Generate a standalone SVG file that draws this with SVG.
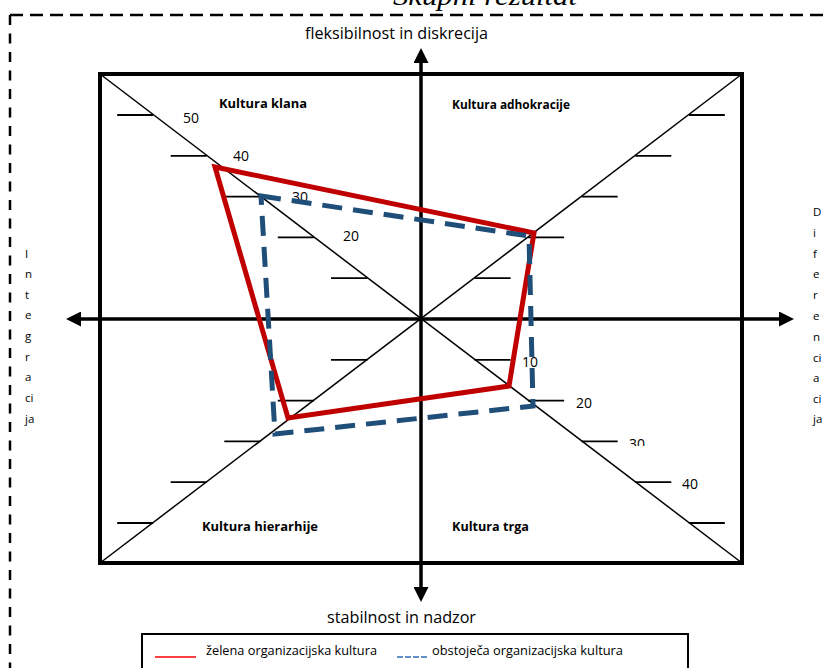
<svg xmlns="http://www.w3.org/2000/svg" width="826" height="668" viewBox="0 0 826 668">
<style>
.t{font-family:"Open Sans","Liberation Sans",sans-serif;fill:#000}
.num{font-size:14px}
.q{font-size:12.5px;font-weight:bold}
.ax{font-size:15.5px}
.v{font-size:11.5px}
.lg{font-size:12.5px}
.diag{stroke:#000;stroke-width:1.5;fill:none}
.tick{stroke:#000;stroke-width:1.8}
.axis{stroke:#000;stroke-width:3.5;fill:none}
</style>
<defs>
<marker id="ah" viewBox="0 -7.5 15 15" refX="1" refY="0" markerWidth="15" markerHeight="15" markerUnits="userSpaceOnUse" orient="auto-start-reverse">
<path d="M0,-7.5 L15,0 L0,7.5 z" fill="#000"/>
</marker>
<clipPath id="c1"><rect x="280" y="180" width="40" height="20.5"/></clipPath>
<clipPath id="c2"><rect x="620" y="425" width="40" height="21"/></clipPath>
</defs>
<rect width="826" height="668" fill="#fff"/>

<g id="title">
<text x="393" y="5" font-family="'Liberation Serif',serif" font-style="italic" font-size="28" textLength="184" lengthAdjust="spacingAndGlyphs">Skupni rezultat</text>
</g>

<g id="border">
<line x1="10" y1="15" x2="826" y2="15" stroke="#000" stroke-width="2.5" stroke-dasharray="13 7"/>
<line x1="10" y1="15" x2="10" y2="668" stroke="#000" stroke-width="2.5" stroke-dasharray="10 8.5"/>
</g>

<g id="frame">
<rect x="100" y="74" width="642" height="489" fill="none" stroke="#000" stroke-width="4"/>
<line class="diag" x1="100" y1="74" x2="742" y2="563"/>
<line class="diag" x1="742" y1="74" x2="100" y2="563"/>
</g>

<g id="ticks">
<line class="tick" x1="331" y1="278.2" x2="367.4" y2="278.2"/>
<line class="tick" x1="277.8" y1="237.4" x2="313.9" y2="237.4"/>
<line class="tick" x1="224.3" y1="196.6" x2="260.3" y2="196.6"/>
<line class="tick" x1="170.7" y1="155.8" x2="206.7" y2="155.8"/>
<line class="tick" x1="117.2" y1="115" x2="153.2" y2="115"/>
<line class="tick" x1="474.6" y1="278.2" x2="510.6" y2="278.2"/>
<line class="tick" x1="528.1" y1="237.4" x2="564.1" y2="237.4"/>
<line class="tick" x1="581.7" y1="196.6" x2="617.7" y2="196.6"/>
<line class="tick" x1="635.3" y1="155.8" x2="671.3" y2="155.8"/>
<line class="tick" x1="688.8" y1="115" x2="724.8" y2="115"/>
<line class="tick" x1="331" y1="359.8" x2="367.4" y2="359.8"/>
<line class="tick" x1="277.8" y1="400.6" x2="313.9" y2="400.6"/>
<line class="tick" x1="224.3" y1="441.4" x2="260.3" y2="441.4"/>
<line class="tick" x1="170.7" y1="482.2" x2="206.7" y2="482.2"/>
<line class="tick" x1="117.2" y1="523" x2="153.2" y2="523"/>
<line class="tick" x1="474.6" y1="359.8" x2="510.6" y2="359.8"/>
<line class="tick" x1="528.1" y1="400.6" x2="564.1" y2="400.6"/>
<line class="tick" x1="581.7" y1="441.4" x2="617.7" y2="441.4"/>
<line class="tick" x1="635.3" y1="482.2" x2="671.3" y2="482.2"/>
<line class="tick" x1="688.8" y1="523" x2="724.8" y2="523"/>
</g>

<g id="connectors">
<line class="axis" x1="421" y1="62" x2="421" y2="588" marker-start="url(#ah)" marker-end="url(#ah)"/>
<line class="axis" x1="80" y1="319" x2="780" y2="319" marker-start="url(#ah)" marker-end="url(#ah)"/>
</g>

<g id="scale-labels">
<text class="t num" x="183" y="123">50</text>
<text class="t num" x="233" y="161">40</text>
<text class="t num" x="292" y="202" clip-path="url(#c1)">30</text>
<text class="t num" x="343" y="241">20</text>
<text class="t num" x="522" y="367">10</text>
<text class="t num" x="576" y="408">20</text>
<text class="t num" x="629" y="448.5" clip-path="url(#c2)">30</text>
<text class="t num" x="682" y="489">40</text>
</g>

<g id="q-klan"><text class="t q" x="219" y="108" textLength="88" lengthAdjust="spacingAndGlyphs">Kultura klana</text></g>
<g id="q-adhokracija"><text class="t q" x="452" y="108.5" textLength="118" lengthAdjust="spacingAndGlyphs">Kultura adhokracije</text></g>
<g id="q-hierarhija"><text class="t q" x="202" y="530.5" textLength="116" lengthAdjust="spacingAndGlyphs">Kultura hierarhije</text></g>
<g id="q-trg"><text class="t q" x="452" y="530.5" textLength="77" lengthAdjust="spacingAndGlyphs">Kultura trga</text></g>

<g id="label-top"><text class="t ax" x="305" y="38.5" textLength="183" lengthAdjust="spacingAndGlyphs">fleksibilnost in diskrecija</text></g>
<g id="label-bottom"><text class="t ax" x="327" y="622.5" textLength="149" lengthAdjust="spacingAndGlyphs">stabilnost in nadzor</text></g>

<g id="label-left" class="t v">
<text x="25" y="257.5">I</text>
<text x="25" y="278">n</text>
<text x="25" y="298.5">t</text>
<text x="25" y="319">e</text>
<text x="25" y="340">g</text>
<text x="25" y="360.5">r</text>
<text x="25" y="381">a</text>
<text x="25" y="401.5">ci</text>
<text x="25" y="422.5">ja</text>
</g>

<g id="label-right" class="t v">
<text x="813" y="216">D</text>
<text x="813" y="237">i</text>
<text x="813" y="257.5">f</text>
<text x="813" y="278">e</text>
<text x="813" y="299">r</text>
<text x="813" y="320">e</text>
<text x="813" y="341">n</text>
<text x="813" y="361.5">ci</text>
<text x="813" y="382">a</text>
<text x="813" y="402.5">ci</text>
<text x="813" y="423">ja</text>
</g>

<g id="zelena">
<polygon points="215,167 534,233 509,386 288,418" fill="none" stroke="#C00000" stroke-width="5" stroke-linejoin="miter"/>
</g>
<g id="obstojeca">
<polygon points="261,196 529,236 533,406 275,434" fill="none" stroke="#1F4E79" stroke-width="5" stroke-dasharray="20 11" stroke-linejoin="miter"/>
</g>

<g id="legend">
<rect x="142" y="634" width="546" height="40" fill="none" stroke="#000" stroke-width="2"/>
<line x1="155" y1="657" x2="196" y2="657" stroke="#FF0000" stroke-width="1.5"/>
<text class="t lg" x="206" y="655" textLength="171" lengthAdjust="spacingAndGlyphs">želena organizacijska kultura</text>
<line x1="397" y1="657" x2="427" y2="657" stroke="#2E6BB5" stroke-width="1.5" stroke-dasharray="6 2"/>
<text class="t lg" x="432" y="655" textLength="191" lengthAdjust="spacingAndGlyphs">obstoječa organizacijska kultura</text>
</g>
</svg>
